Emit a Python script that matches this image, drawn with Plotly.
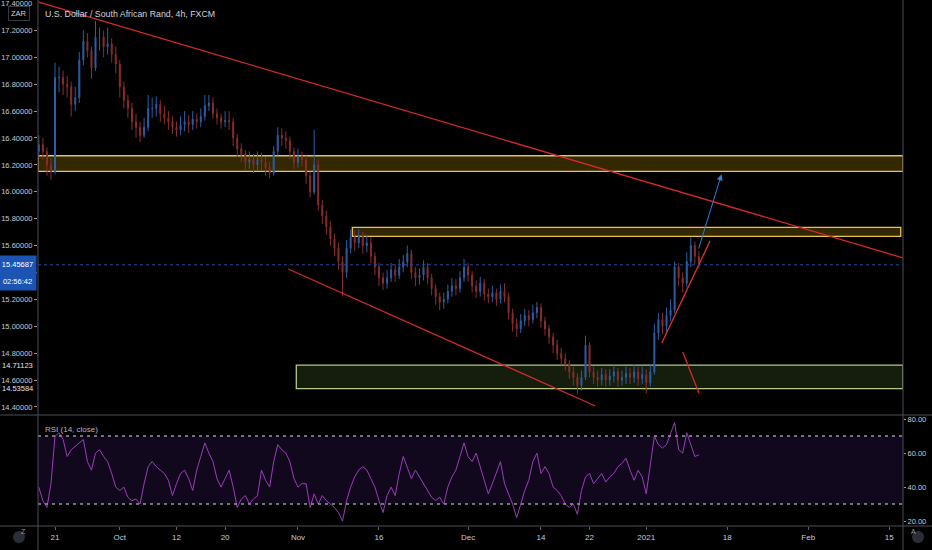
import pandas as pd
import plotly.graph_objects as go

# USD/ZAR (FXCM) - prices, resampled to 12h bars
holidays = ["2020-12-25", "2021-01-01"]
bar_times = pd.date_range("2020-09-17 00:00", "2021-01-12 12:00", freq="12h")
bar_times = [t for t in bar_times if t.weekday() < 5 and t.strftime("%Y-%m-%d") not in holidays]

opens = [16.30, 16.35, 16.30, 16.20, 16.15, 16.85, 16.85, 16.80, 16.78, 16.65,
         16.70, 16.98, 17.12, 17.05, 16.92, 17.15, 17.15, 17.08, 17.10, 17.02,
         16.95, 16.78, 16.68, 16.62, 16.52, 16.48, 16.42, 16.48, 16.62, 16.62,
         16.65, 16.58, 16.55, 16.52, 16.48, 16.46, 16.50, 16.52, 16.50, 16.54,
         16.52, 16.56, 16.64, 16.66, 16.58, 16.55, 16.52,
         16.53, 16.52, 16.40, 16.32, 16.28, 16.22, 16.24, 16.20, 16.24, 16.22,
         16.18, 16.14, 16.30, 16.42, 16.40, 16.38, 16.30, 16.22, 16.26, 16.24,
         16.12, 16.00, 16.20, 15.90, 15.82, 15.74, 15.65, 15.58, 15.48, 15.40,
         15.58, 15.66, 15.62, 15.67, 15.60, 15.62, 15.52, 15.44, 15.36, 15.32,
         15.36, 15.42, 15.38, 15.44, 15.48, 15.54, 15.40, 15.36, 15.38, 15.44,
         15.36, 15.28, 15.22, 15.18, 15.20, 15.26, 15.30, 15.28, 15.36, 15.44,
         15.38, 15.30, 15.26, 15.32, 15.24, 15.22, 15.25, 15.20, 15.26, 15.22,
         15.10, 15.02, 14.98, 15.04, 15.08, 15.05, 15.10, 15.14, 15.04, 14.98,
         14.92, 14.86, 14.80, 14.76, 14.72, 14.66, 14.62, 14.56, 14.62, 14.86,
         14.66, 14.62, 14.60, 14.64, 14.60, 14.63, 14.66, 14.60,
         14.62, 14.65, 14.62, 14.66, 14.61, 14.64, 14.58, 14.66, 14.95, 15.05,
         15.00, 15.08, 15.12, 15.44, 15.36, 15.32, 15.48, 15.60, 15.52]

highs = [16.42, 16.40, 16.33, 16.25, 16.96, 16.93, 16.90, 16.86, 16.82, 16.78,
         17.04, 17.20, 17.18, 17.08, 17.27, 17.22, 17.20, 17.22, 17.14, 17.08,
         16.98, 16.82, 16.72, 16.66, 16.58, 16.52, 16.55, 16.72, 16.70, 16.71,
         16.68, 16.64, 16.60, 16.56, 16.52, 16.56, 16.60, 16.57, 16.60, 16.58,
         16.62, 16.72, 16.72, 16.70, 16.62, 16.58, 16.60,
         16.60, 16.55, 16.43, 16.36, 16.31, 16.30, 16.28, 16.30, 16.29, 16.26,
         16.22, 16.34, 16.48, 16.47, 16.45, 16.41, 16.33, 16.32, 16.30, 16.27,
         16.15, 16.46, 16.24, 15.94, 15.86, 15.78, 15.69, 15.62, 15.52, 15.64,
         15.72, 15.71, 15.72, 15.70, 15.68, 15.66, 15.55, 15.47, 15.40, 15.42,
         15.47, 15.46, 15.50, 15.53, 15.60, 15.57, 15.44, 15.43, 15.49, 15.47,
         15.39, 15.31, 15.25, 15.25, 15.31, 15.36, 15.35, 15.41, 15.50, 15.47,
         15.41, 15.34, 15.37, 15.35, 15.28, 15.30, 15.28, 15.31, 15.32, 15.25,
         15.13, 15.06, 15.09, 15.13, 15.12, 15.16, 15.18, 15.17, 15.07, 15.01,
         14.95, 14.90, 14.84, 14.80, 14.75, 14.70, 14.65, 14.67, 14.93, 14.88,
         14.70, 14.67, 14.69, 14.68, 14.68, 14.71, 14.69, 14.67,
         14.70, 14.69, 14.72, 14.70, 14.70, 14.68, 14.72, 15.02, 15.10, 15.10,
         15.14, 15.20, 15.48, 15.47, 15.40, 15.55, 15.66, 15.63, 15.56]

lows = [16.26, 16.24, 16.12, 16.09, 16.13, 16.74, 16.72, 16.70, 16.56, 16.60,
        16.66, 16.94, 17.00, 16.84, 16.90, 17.05, 17.00, 17.02, 16.96, 16.88,
        16.70, 16.62, 16.55, 16.46, 16.40, 16.37, 16.40, 16.45, 16.55, 16.56,
        16.52, 16.50, 16.46, 16.43, 16.41, 16.42, 16.45, 16.44, 16.46, 16.47,
        16.48, 16.53, 16.60, 16.54, 16.50, 16.47, 16.48,
        16.46, 16.34, 16.26, 16.22, 16.16, 16.17, 16.14, 16.16, 16.16, 16.12,
        16.10, 16.12, 16.27, 16.34, 16.32, 16.24, 16.17, 16.18, 16.19, 16.06,
        15.96, 15.98, 15.86, 15.76, 15.68, 15.60, 15.52, 15.42, 15.22, 15.36,
        15.54, 15.56, 15.58, 15.54, 15.55, 15.47, 15.38, 15.30, 15.27, 15.28,
        15.33, 15.33, 15.35, 15.40, 15.44, 15.35, 15.30, 15.31, 15.34, 15.31,
        15.23, 15.16, 15.12, 15.13, 15.17, 15.22, 15.23, 15.25, 15.33, 15.33,
        15.25, 15.21, 15.22, 15.19, 15.17, 15.18, 15.15, 15.17, 15.18, 15.05,
        14.96, 14.92, 14.95, 15.00, 15.00, 15.02, 15.06, 14.99, 14.93, 14.87,
        14.80, 14.75, 14.71, 14.67, 14.61, 14.56, 14.50, 14.52, 14.60, 14.62,
        14.57, 14.55, 14.56, 14.55, 14.56, 14.58, 14.55, 14.56,
        14.57, 14.57, 14.58, 14.56, 14.57, 14.50, 14.55, 14.64, 14.90, 14.94,
        14.96, 15.04, 15.10, 15.30, 15.25, 15.29, 15.44, 15.46, 15.43]

closes = [16.35, 16.30, 16.20, 16.15, 16.85, 16.85, 16.80, 16.78, 16.65, 16.70,
          16.98, 17.12, 17.05, 16.92, 17.15, 17.15, 17.08, 17.10, 17.02, 16.95,
          16.78, 16.68, 16.62, 16.52, 16.48, 16.42, 16.48, 16.62, 16.62, 16.65,
          16.58, 16.55, 16.52, 16.48, 16.46, 16.50, 16.52, 16.50, 16.54, 16.52,
          16.56, 16.64, 16.66, 16.58, 16.55, 16.52, 16.53,
          16.52, 16.40, 16.32, 16.28, 16.22, 16.24, 16.20, 16.24, 16.22, 16.18,
          16.14, 16.30, 16.42, 16.40, 16.38, 16.30, 16.22, 16.26, 16.24, 16.12,
          16.00, 16.20, 15.90, 15.82, 15.74, 15.65, 15.58, 15.48, 15.40, 15.58,
          15.66, 15.62, 15.67, 15.60, 15.62, 15.52, 15.44, 15.36, 15.32, 15.36,
          15.42, 15.38, 15.44, 15.48, 15.54, 15.40, 15.36, 15.38, 15.44, 15.36,
          15.28, 15.22, 15.18, 15.20, 15.26, 15.30, 15.28, 15.36, 15.44, 15.38,
          15.30, 15.26, 15.32, 15.24, 15.22, 15.25, 15.20, 15.26, 15.22, 15.10,
          15.02, 14.98, 15.04, 15.08, 15.05, 15.10, 15.14, 15.04, 14.98, 14.92,
          14.86, 14.80, 14.76, 14.72, 14.66, 14.62, 14.56, 14.62, 14.86, 14.66,
          14.62, 14.60, 14.64, 14.60, 14.63, 14.66, 14.60, 14.62,
          14.65, 14.62, 14.66, 14.61, 14.64, 14.58, 14.66, 14.95, 15.05, 15.00,
          15.08, 15.12, 15.44, 15.36, 15.32, 15.48, 15.60, 15.52, 15.45687]

# RSI(14, close)
rsi = [40, 32, 28, 42, 70, 72, 68, 58, 62, 64,
       66, 68, 55, 50, 60, 62, 58, 55, 48, 40,
       38, 40, 34, 32, 33, 30, 42, 52, 55, 52,
       50, 48, 44, 35, 42, 48, 50, 45, 38, 50,
       58, 66, 60, 55, 45, 40, 45, 50, 40, 28,
       33, 35, 30, 33, 35, 50, 44, 40, 55, 65,
       62, 60, 55, 45, 40, 42, 42, 28, 36, 30,
       35, 32, 30, 28, 25, 20, 32, 40, 46, 50,
       52, 50, 45, 40, 32, 25, 35, 40, 35, 48,
       58, 52, 45, 50, 46, 42, 38, 34, 32, 34,
       30, 40, 46, 50, 58, 66, 58, 55, 60, 52,
       45, 36, 42, 48, 55, 42, 36, 30, 22, 30,
       38, 44, 55, 60, 48, 52, 48, 40, 38, 35,
       30, 28, 30, 24, 38, 46, 48, 42, 45, 48,
       43, 46, 48, 52, 54, 57, 50, 44, 50, 46,
       36, 52, 70, 65, 63, 65, 72, 78, 62, 60,
       72, 65, 58, 59]
rsi_levels = [30, 70]

last_price = 15.45687
countdown = "02:56:42"

# drawings on the chart
zone_top = [16.152, 16.268]
zone_mid = [15.669, 15.736]
zone_low = [14.53584, 14.71123]
zone_mid_x = ["2020-11-10 17:00", "2021-02-16 10:00"]
zone_low_x0 = "2020-10-30 19:00"
resist_x = ["2020-09-17 00:00", "2021-02-16 17:00"]
resist_y = [17.41, 15.508]
channel_x = ["2020-10-29 19:00", "2020-12-22 17:00"]
channel_y = [15.426, 14.407]
support_x = ["2021-01-05 22:00", "2021-01-13 21:00"]
support_y = [14.876, 15.634]
down_x = ["2021-01-08 12:00", "2021-01-12 12:00"]
down_y = [14.809, 14.504]
arrow_x = ["2021-01-12 10:00", "2021-01-15 07:00"]
arrow_y = [15.567, 16.13]

x_range = ["2020-09-16 21:36", "2021-02-16 16:48"]
tick_dates = ["2020-09-21", "2020-10-01", "2020-10-12", "2020-10-20", "2020-11-02",
              "2020-11-16", "2020-12-01", "2020-12-14", "2020-12-22", "2021-01-04",
              "2021-01-18", "2021-02-01", "2021-02-15"]
tick_text = ["21", "Oct", "12", "20", "Nov", "16", "Dec", "14", "22", "2021", "18", "Feb", "15"]
price_ticks = [14.4, 14.6, 14.8, 15.0, 15.2, 15.4, 15.6, 15.8, 16.0, 16.2, 16.4, 16.6, 16.8, 17.0, 17.2, 17.4]

FONT = "Liberation Sans, Arial"
GRID = "#4a4e5a"
RED = "#d42a2a"

fig = go.Figure()

fig.add_trace(go.Candlestick(
    x=bar_times, open=opens, high=highs, low=lows, close=closes,
    increasing=dict(line=dict(color="#2b5ea6", width=1), fillcolor="#2b5ea6"),
    decreasing=dict(line=dict(color="#8a2d2d", width=1), fillcolor="#8a2d2d"),
    whiskerwidth=0, xaxis="x", yaxis="y", hoverinfo="skip"))

for xs, ys, col in [(resist_x, resist_y, RED), (channel_x, channel_y, RED),
                    (support_x, support_y, "#e0352b"), (down_x, down_y, RED)]:
    fig.add_trace(go.Scatter(x=xs, y=ys, mode="lines", line=dict(color=col, width=1.3),
                             xaxis="x", yaxis="y", hoverinfo="skip"))

fig.add_trace(go.Scatter(x=bar_times, y=rsi, mode="lines", line=dict(color="#9a3cb8", width=1),
                         xaxis="x", yaxis="y2", hoverinfo="skip"))

# zones
fig.add_shape(type="rect", xref="x", yref="y", x0=x_range[0], x1=x_range[1],
              y0=zone_top[0], y1=zone_top[1], fillcolor="rgba(255,200,0,0.2)",
              line=dict(color="#e6c25a", width=1.3), layer="below")
fig.add_shape(type="rect", xref="x", yref="y", x0=zone_mid_x[0], x1=zone_mid_x[1],
              y0=zone_mid[0], y1=zone_mid[1], fillcolor="rgba(255,200,0,0.2)",
              line=dict(color="#e6c25a", width=1.3), layer="below")
fig.add_shape(type="rect", xref="x", yref="y", x0=zone_low_x0, x1=x_range[1],
              y0=zone_low[0], y1=zone_low[1], fillcolor="rgba(140,200,80,0.15)",
              line=dict(color="#b5c98a", width=1.3), layer="below")

# last price line
fig.add_shape(type="line", xref="paper", yref="y", x0=0, x1=1, y0=last_price, y1=last_price,
              line=dict(color="#1f4f9c", width=1, dash="dot"))

# RSI band and levels
fig.add_shape(type="rect", xref="paper", yref="y2", x0=0, x1=1, y0=rsi_levels[0], y1=rsi_levels[1],
              fillcolor="#12081e", line=dict(width=0), layer="below")
for lv in rsi_levels:
    fig.add_shape(type="line", xref="paper", yref="y2", x0=0, x1=1, y0=lv, y1=lv,
                  line=dict(color="#9598a1", width=1.5, dash="3px,4px"))

# pane separators
for yy in [0.211, 0.0]:
    fig.add_shape(type="line", xref="paper", yref="paper", x0=-0.0439, x1=1.0335, y0=yy, y1=yy,
                  line=dict(color=GRID, width=1))
for xx in [0.0, 1.0]:
    fig.add_shape(type="line", xref="paper", yref="paper", x0=xx, x1=xx, y0=-0.0456, y1=1,
                  line=dict(color=GRID, width=1))

# Z / A buttons
for x0, x1 in [(-0.0289, -0.0150), (1.0104, 1.0243)]:
    fig.add_shape(type="circle", xref="paper", yref="paper", x0=x0, x1=x1, y0=-0.0323, y1=-0.0095,
                  fillcolor="#2a2e39", line=dict(width=0))

# arrow
fig.add_annotation(x=arrow_x[1], y=arrow_y[1], ax=arrow_x[0], ay=arrow_y[0],
                   xref="x", yref="y", axref="x", ayref="y", text="",
                   showarrow=True, arrowhead=2, arrowsize=1.2, arrowwidth=1, arrowcolor="#2f7fd8")

fig.add_annotation(x=0.006, y=0.9734, xref="paper", yref="paper", xanchor="left", yanchor="middle",
                   text="U.S. Dollar / South African Rand, 4h, FXCM", showarrow=False,
                   font=dict(size=8.8, color="#d1d4dc"))
fig.add_annotation(x=0.006, y=0.1844, xref="paper", yref="paper", xanchor="left", yanchor="middle",
                   text="RSI (14, close)", showarrow=False, font=dict(size=8, color="#b2b5be"))
fig.add_annotation(x=-0.022, y=0.9734, xref="paper", yref="paper", xanchor="center", yanchor="middle",
                   text="ZAR", showarrow=False, font=dict(size=7.5, color="#d1d4dc"),
                   bordercolor="#363a45", borderwidth=1, borderpad=2, bgcolor="#000000")
fig.add_annotation(x=-0.022, y=-0.0209, xref="paper", yref="paper", text="Z", showarrow=False,
                   font=dict(size=7, color="#9598a1"))
fig.add_annotation(x=1.0174, y=-0.0209, xref="paper", yref="paper", text="A", showarrow=False,
                   font=dict(size=7, color="#9598a1"))

# top price label, half cut by the pane edge as on the original
fig.add_annotation(x=0, y=price_ticks[-1], xref="paper", yref="y", xanchor="right", yanchor="middle",
                   xshift=-4, text=f"{price_ticks[-1]:.5f}", showarrow=False,
                   font=dict(size=7.5, color="#c8cbd3"))

# axis price labels
fig.add_annotation(x=0, y=last_price, xref="paper", yref="y", xanchor="right", yanchor="middle",
                   xshift=-1, text=f"{last_price:.5f}", showarrow=False, width=35, height=15,
                   bgcolor="#1c54b4", font=dict(size=7.5, color="#ffffff"))
fig.add_annotation(x=0, y=last_price, xref="paper", yref="y", xanchor="right", yanchor="middle",
                   xshift=-1, yshift=-17, text=countdown, showarrow=False, width=35, height=15,
                   bgcolor="#1c54b4", font=dict(size=7.5, color="#ffffff"))
for v in zone_low:
    fig.add_annotation(x=0, y=v, xref="paper", yref="y", xanchor="right", yanchor="middle",
                       xshift=-4, text=f"{v:.5f}", showarrow=False, bgcolor="#000000",
                       borderpad=0, font=dict(size=7.5, color="#e0e3eb"))

fig.update_layout(
    width=932, height=550,
    margin=dict(l=38, r=29, t=0, b=24, autoexpand=False),
    paper_bgcolor="#000000", plot_bgcolor="#000000",
    showlegend=False, boxgap=0.65,
    font=dict(family=FONT, size=7.5, color="#c8cbd3"),
    xaxis=dict(domain=[0, 1], anchor="y2", range=x_range, automargin=False,
               rangebreaks=[dict(bounds=["sat", "mon"]), dict(values=holidays)],
               tickmode="array", tickvals=tick_dates, ticktext=tick_text,
               showgrid=False, zeroline=False, showline=False,
               ticks="outside", ticklen=3, tickcolor="#5d606b",
               tickfont=dict(size=8), rangeslider=dict(visible=False)),
    yaxis=dict(domain=[0.211, 1], anchor="x", side="left", range=[14.34, 17.426],
               automargin=False,
               tickmode="array", tickvals=price_ticks[:-1], tickformat=".5f",
               showgrid=False, zeroline=False, showline=False,
               ticks="outside", ticklen=3, tickcolor="#9598a1"),
    yaxis2=dict(domain=[0, 0.209], anchor="x", side="right", range=[17.1, 81.8],
                automargin=False,
                tickmode="array", tickvals=[20, 40, 60, 80], tickformat=".2f",
                showgrid=False, zeroline=False, showline=False,
                ticks="outside", ticklen=2, tickcolor="#9598a1"),
)

fig.write_html("out.html", config={"displayModeBar": False},
               post_script="document.body.style.margin='0';")
